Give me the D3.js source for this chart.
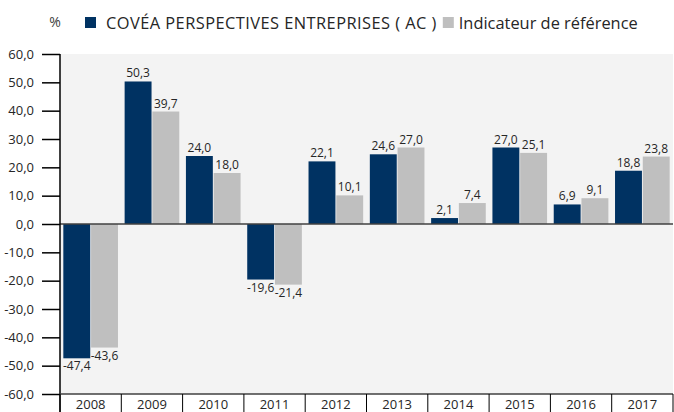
<!DOCTYPE html>
<html>
<head>
<meta charset="utf-8">
<script src="https://cdn.jsdelivr.net/npm/d3@7"></script>
<style>
    body { margin: 0; background: #fff; }
    svg { display: block; font-family: "Open Sans", sans-serif; }
</style>
</head>
<body>
<div id="chart"></div>
<script>
'use strict';

// data
const years = ['2008', '2009', '2010', '2011', '2012', '2013', '2014', '2015', '2016', '2017'];
const fundValues = [-47.4, 50.3, 24.0, -19.6, 22.1, 24.6, 2.1, 27.0, 6.9, 18.8];
const benchValues = [-43.6, 39.7, 18.0, -21.4, 10.1, 27.0, 7.4, 25.1, 9.1, 23.8];
const seriesNames = ['COVÉA PERSPECTIVES ENTREPRISES ( AC )', 'Indicateur de référence'];
const yTicks = [-60, -50, -40, -30, -20, -10, 0, 10, 20, 30, 40, 50, 60];

const svgWidth = 674, svgHeight = 412;
const margin = [54, 18, 60, 1];   // top, bottom, left, right
const chartWidth = svgWidth - margin[2] - margin[3];
const chartHeight = svgHeight - margin[0] - margin[1];
const colors = ['#003262', '#bfbfbf'];

// french style numbers: comma decimal, plain hyphen for minus
const locale = d3.formatLocale({decimal: ',', thousands: ' ', grouping: [3], currency: ['', ' €'], minus: '-'});
const fmt = locale.format('.1f');

const svg = d3.select('#chart').append('svg')
    .attr('width', svgWidth)
    .attr('height', svgHeight);

const chart = svg.append('g')
    .attr('transform', `translate(${margin[2]},${margin[0]})`);

const scaleX = d3.scaleBand(years, [0, chartWidth]);
const scaleSeries = d3.scaleBand([0, 1], [0, scaleX.bandwidth()]).paddingOuter(0.12).paddingInner(0.03);
const scaleY = d3.scaleLinear([-60, 60], [chartHeight, 0]);

// plot background
chart.append('rect')
    .attr('width', chartWidth)
    .attr('height', chartHeight)
    .attr('fill', '#f3f3f3');

// bars + value labels
const series = [fundValues, benchValues];
series.forEach((vals, s) => {
    const g = chart.append('g');
    g.selectAll('rect')
        .data(vals)
        .join('rect')
        .attr('x', (d, i) => scaleX(years[i]) + scaleSeries(s))
        .attr('width', scaleSeries.bandwidth())
        .attr('y', d => scaleY(Math.max(0, d)))
        .attr('height', d => Math.abs(scaleY(d) - scaleY(0)))
        .attr('fill', colors[s]);

    g.selectAll('text')
        .data(vals)
        .join('text')
        .attr('x', (d, i) => scaleX(years[i]) + scaleSeries(s) + scaleSeries.bandwidth() / 2)
        .attr('y', d => d >= 0 ? scaleY(d) - 4 : scaleY(d) + 12)
        .attr('text-anchor', 'middle')
        .attr('font-size', 12)
        .attr('fill', '#262626')
        .text(d => fmt(d));
});

// zero line
chart.append('line')
    .attr('x1', 0).attr('x2', chartWidth)
    .attr('y1', scaleY(0)).attr('y2', scaleY(0))
    .attr('stroke', '#404040')
    .attr('stroke-width', 1.5);

// y axis
const yAxis = d3.axisLeft(scaleY).tickValues(yTicks).tickSize(18).tickPadding(8).tickFormat(fmt);
const axisY = chart.append('g').call(yAxis);
axisY.select('.domain').remove();
axisY.selectAll('line').attr('stroke', '#000').attr('stroke-width', 1.5);
axisY.selectAll('text').attr('font-size', 13).attr('fill', '#262626').attr('font-family', '"Open Sans", sans-serif');
chart.append('line')
    .attr('x1', 0).attr('x2', 0)
    .attr('y1', 0).attr('y2', svgHeight - margin[0])
    .attr('stroke', '#000').attr('stroke-width', 1.5);

// bottom axis line and category separators
chart.append('line')
    .attr('x1', 0).attr('x2', chartWidth)
    .attr('y1', chartHeight).attr('y2', chartHeight)
    .attr('stroke', '#404040').attr('stroke-width', 1.5);

const axisX = chart.append('g').attr('transform', `translate(0,${chartHeight})`);
axisX.selectAll('line')
    .data(years.concat(['end']))
    .join('line')
    .attr('x1', (d, i) => i < years.length ? scaleX(d) : chartWidth)
    .attr('x2', (d, i) => i < years.length ? scaleX(d) : chartWidth)
    .attr('y1', 0).attr('y2', margin[1])
    .attr('stroke', '#000').attr('stroke-width', 1);
axisX.selectAll('text')
    .data(years)
    .join('text')
    .attr('x', d => scaleX(d) + scaleX.bandwidth() / 2)
    .attr('y', 15)
    .attr('text-anchor', 'middle')
    .attr('font-size', 13)
    .attr('fill', '#262626')
    .text(d => d);

// unit label
svg.append('text')
    .attr('x', 55).attr('y', 27)
    .attr('text-anchor', 'middle')
    .attr('font-size', 14)
    .attr('fill', '#404040')
    .text('%');

// legend
const legend = svg.append('g').attr('transform', 'translate(85,17)');
const item0 = legend.append('g');
item0.append('rect').attr('width', 11).attr('height', 11).attr('fill', colors[0]);
const t0 = item0.append('text').attr('x', 21).attr('y', 11.5).attr('font-size', 16.4)
    .attr('letter-spacing', 0.45).attr('fill', '#262626').text(seriesNames[0]);
const w0 = t0.node().getComputedTextLength();
const item1 = legend.append('g').attr('transform', `translate(${21 + w0 + 6},0)`);
item1.append('rect').attr('width', 11).attr('height', 11).attr('fill', colors[1]);
item1.append('text').attr('x', 16).attr('y', 11.5).attr('font-size', 16.4).attr('fill', '#262626').text(seriesNames[1]);
</script>
</body>
</html>
